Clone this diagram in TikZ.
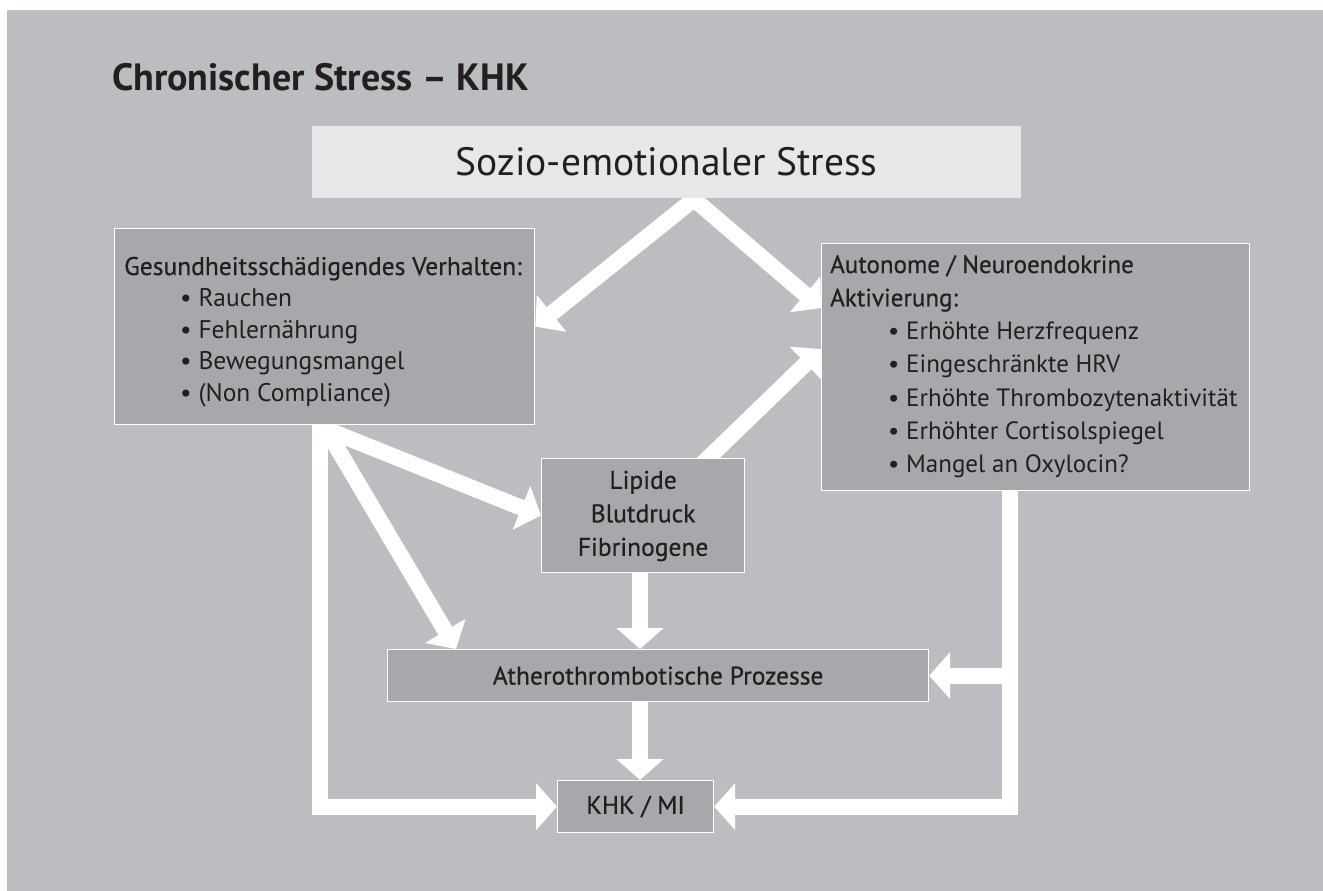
\documentclass[tikz,border=0pt]{standalone}
\usepackage{fontspec}
\setmainfont{PT Sans}
\newfontfamily\medfont[FakeBold=0.6]{PT Sans}
\usetikzlibrary{arrows.meta,calc}
\definecolor{bggray}{HTML}{BCBDC1}
\definecolor{boxgray}{HTML}{A7A8AB}
\definecolor{toplight}{HTML}{E6E7E9}
\definecolor{ink}{HTML}{231F20}
\pgfdeclarelayer{bglayer}
\pgfdeclarelayer{arrowlayer}
\pgfsetlayers{bglayer,arrowlayer,main}
\begin{document}
\begin{tikzpicture}[x=1pt,y=-1pt,
  box/.style={draw=white,line width=1.2pt,fill=boxgray,inner sep=0pt,anchor=north west,text=ink},
  flow/.style={draw=white,line width=16pt,line join=miter,-{Triangle[length=21pt,width=46pt]}},
  flowboth/.style={draw=white,line width=16pt,line join=miter,{Triangle[length=21pt,width=46pt]}-{Triangle[length=21pt,width=46pt]}},
  txt/.style={text=ink,inner sep=0pt}]
\useasboundingbox (0,0) rectangle (1323,891);
\begin{pgfonlayer}{bglayer}
  \fill[white] (0,0) rectangle (1323,891);
  \fill[bggray] (7,10) rectangle (1323,891);
\end{pgfonlayer}

% title
\node[txt,anchor=base west,font=\bfseries\fontsize{38}{42}\selectfont] (title) at (112,90) {Chronischer Stress – KHK};

% boxes
\node[box,fill=toplight,draw=toplight,minimum width=708pt,minimum height=71pt,font=\fontsize{39.5}{44}\selectfont] (sozio) at (312,126) {Sozio-emotionaler Stress};
\node[box,minimum width=420pt,minimum height=196pt] (gesund) at (114,228) {};
\node[box,minimum width=428pt,minimum height=247pt] (auto) at (821,243) {};
\node[box,minimum width=203pt,minimum height=114pt,font=\medfont\fontsize{25.5}{33.5}\selectfont] (lipide) at (541,458) {\begin{tabular}{@{}c@{}}Lipide\\Blutdruck\\Fibrinogene\end{tabular}};
\node[box,minimum width=541pt,minimum height=52pt,font=\medfont\fontsize{25.5}{30}\selectfont] (athero) at (387,649) {Atherothrombotische Prozesse};
\node[box,minimum width=156pt,minimum height=52pt,font=\medfont\fontsize{25.5}{30}\selectfont] (khk) at (557,780) {KHK / MI};

% box texts
\node[txt,anchor=base west,font=\fontsize{25.5}{31.5}\selectfont] (gesundtext) at ($(gesund.north west)+(10,47)$) {\begin{tabular}[t]{@{}l@{}}
{\medfont Gesundheitsschädigendes Verhalten:}\\
\hspace*{56pt}• Rauchen\\
\hspace*{56pt}• Fehlernährung\\
\hspace*{56pt}• Bewegungsmangel\\
\hspace*{56pt}• (Non Compliance)
\end{tabular}};
\node[txt,anchor=base west,font=\fontsize{25}{33.3}\selectfont] (autotext) at ($(auto.north west)+(9,30)$) {\begin{tabular}[t]{@{}l@{}}
{\medfont Autonome / Neuroendokrine}\\
{\medfont Aktivierung:}\\
\hspace*{58pt}• Erhöhte Herzfrequenz\\
\hspace*{58pt}• Eingeschränkte HRV\\
\hspace*{58pt}• Erhöhte Thrombozytenaktivität\\
\hspace*{58pt}• Erhöhter Cortisolspiegel\\
\hspace*{58pt}• Mangel an Oxylocin?
\end{tabular}};

% connectors
\begin{pgfonlayer}{arrowlayer}
  \coordinate (apex) at ($(sozio.south west)+(382,1)$);
  \coordinate (autoA) at ($(auto.north west)+(0,65)$);
  \coordinate (autoB) at ($(auto.north west)+(0,106)$);
  \coordinate (lipsrc) at ($(lipide.north west)+(159,8)$);
  \coordinate (src) at ($(gesund.south west)+(212,4)$);
  \coordinate (lx) at ($(gesund.south west)+(206,0)$);
  \coordinate (rx) at ($(auto.south west)+(189,0)$);
  \coordinate (colx) at ($(athero.north west)+(253,0)$);
  \coordinate (athL) at ($(athero.north west)+(69,0)$);
  \draw[flowboth] (gesund.east) -- (apex) -- (autoA);
  \draw[flow] (lipsrc) -- (autoB);
  \draw[flow] (src) -- (lipide.west);
  \draw[flow] (src) -- (athL);
  \draw[flow] (lx) -- (lx |- khk.west) -- (khk.west);
  \draw[flow] (lipide.south -| colx) -- (colx);
  \draw[flow] (athero.south -| colx) -- (khk.north -| colx);
  \draw[flow] (rx) -- (rx |- khk.east) -- (khk.east);
  \draw[flow] (rx |- athero.east) -- (athero.east);
\end{pgfonlayer}
\end{tikzpicture}
\end{document}
